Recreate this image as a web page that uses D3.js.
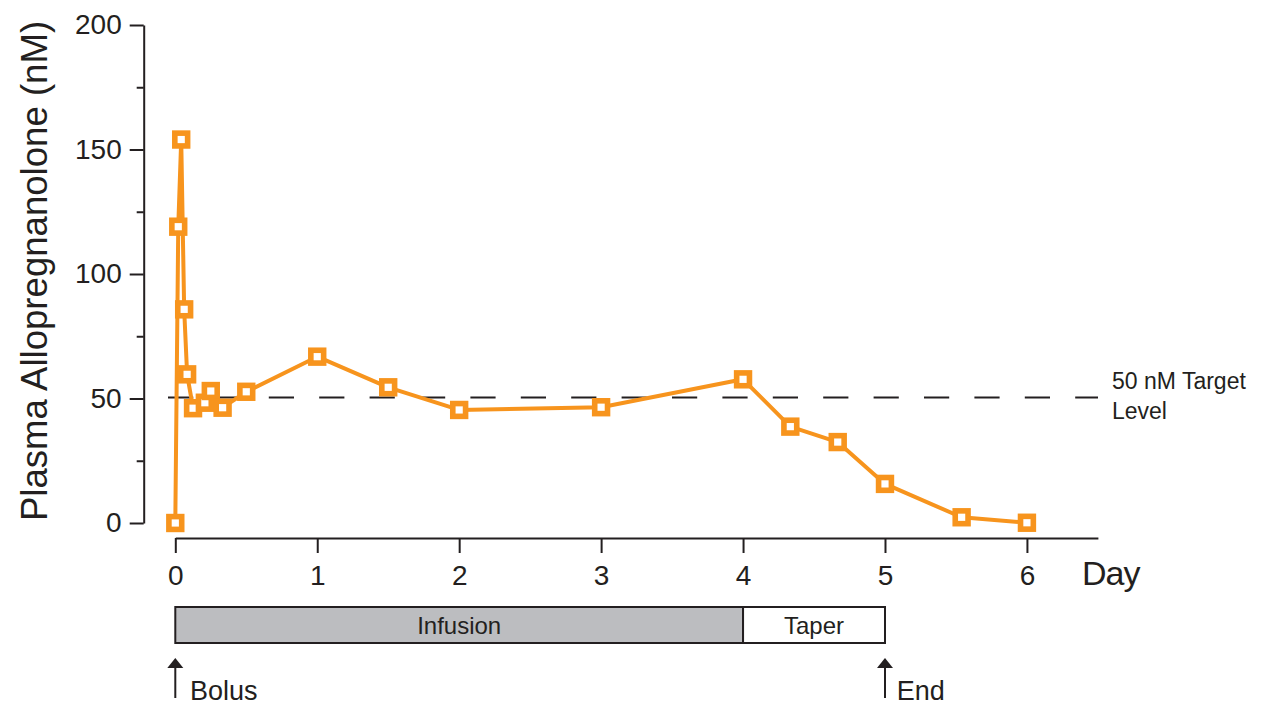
<!DOCTYPE html>
<html>
<head>
<meta charset="utf-8">
<script src="https://cdn.jsdelivr.net/npm/d3@7"></script>
<style>
  html, body { margin: 0; padding: 0; background: #fff; }
  svg { display: block; font-family: "Liberation Sans", Arial, sans-serif; }
</style>
</head>
<body>
<svg id="chart" width="1262" height="706"></svg>
<script>
// Sampling times (days after bolus) and plasma allopregnanolone (nM)
const days = [0, 0.0208, 0.0417, 0.0625, 0.0833, 0.125, 0.2083, 0.25, 0.3333, 0.5,
              1, 1.5, 2, 3, 4, 4.333, 4.667, 5, 5.54, 6];
const allo = [0, 119, 154, 85.8, 59.7, 46.1, 48.3, 53.0, 46.3, 52.7,
              66.8, 54.5, 45.4, 46.5, 57.7, 38.7, 32.5, 15.7, 2.3, 0.1];

const xTicks = [0, 1, 2, 3, 4, 5, 6];
const yTicks = [0, 50, 100, 150, 200];
const yMinorTicks = [25, 75, 125, 175];
const targetLevel = 50;
const targetLabel = ["50 nM Target", "Level"];

// Dosing phases shown under the time axis
const phases = [
  { name: "Infusion", start: 0, end: 4, fill: "#bcbdc0" },
  { name: "Taper", start: 4, end: 5, fill: "#ffffff" }
];
const events = [
  { name: "Bolus", day: 0 },
  { name: "End", day: 5 }
];

const orange = "#f7941d";
const ink = "#231f20";

const svg = d3.select("#chart");

const x = d3.scaleLinear().domain([0, 6.5]).range([175.3, 1097.9]);
const y = d3.scaleLinear().domain([0, 200]).range([523, 25]);

// Y axis: major ticks with labels, minor ticks without
const yAxisG = svg.append("g").attr("transform", "translate(143.7,0)");
yAxisG.call(d3.axisLeft(y).tickValues(yTicks).tickSize(14).tickSizeOuter(0).tickPadding(8));
svg.append("g").attr("transform", "translate(143.7,0)")
  .call(d3.axisLeft(y).tickValues(yMinorTicks).tickSize(7).tickSizeOuter(0).tickFormat(""))
  .select(".domain").remove();

// X axis
const xAxisG = svg.append("g").attr("transform", "translate(0,538)");
xAxisG.call(d3.axisBottom(x).tickValues(xTicks).tickFormat(d3.format("d"))
  .tickSize(15).tickSizeOuter(0).tickPadding(12));

svg.selectAll(".domain, .tick line").attr("stroke", ink).attr("stroke-width", 2);
svg.selectAll(".tick text").attr("font-size", 28).attr("fill", ink)
  .attr("font-family", "Liberation Sans, Arial, sans-serif");

// Axis titles
svg.append("text")
  .attr("transform", `translate(47,${(25 + 523) / 2 - 3}) rotate(-90)`)
  .attr("text-anchor", "middle")
  .attr("font-size", 36.6)
  .attr("fill", ink)
  .text("Plasma Allopregnanolone (nM)");

svg.append("text")
  .attr("x", 1082).attr("y", 585)
  .attr("font-size", 34)
  .attr("letter-spacing", -1)
  .attr("fill", ink)
  .text("Day");

// Target level reference line
svg.append("line")
  .attr("x1", 168).attr("x2", 1098)
  .attr("y1", y(targetLevel) - 1).attr("y2", y(targetLevel) - 1)
  .attr("stroke", ink).attr("stroke-width", 2)
  .attr("stroke-dasharray", "25.2 25.2");

svg.append("text")
  .attr("x", 1112).attr("y", 389)
  .attr("font-size", 23)
  .attr("fill", ink)
  .selectAll("tspan").data(targetLabel).join("tspan")
  .attr("x", 1112).attr("dy", (d, i) => i === 0 ? 0 : 30)
  .text(d => d);

// Concentration time course
const pts = days.map((d, i) => [d, allo[i]]);
svg.append("path")
  .datum(pts)
  .attr("fill", "none")
  .attr("stroke", orange)
  .attr("stroke-width", 4)
  .attr("stroke-linejoin", "round")
  .attr("d", d3.line().x(d => x(d[0])).y(d => y(d[1])));

const ms = 12.8;
svg.append("g").selectAll("rect").data(pts).join("rect")
  .attr("x", d => x(d[0]) - ms / 2)
  .attr("y", d => y(d[1]) - ms / 2)
  .attr("width", ms).attr("height", ms)
  .attr("fill", "#fff")
  .attr("stroke", orange)
  .attr("stroke-width", 5.6);

// Dosing schedule bar
const barG = svg.append("g");
barG.selectAll("rect").data(phases).join("rect")
  .attr("x", d => x(d.start))
  .attr("y", 607)
  .attr("width", d => x(d.end) - x(d.start))
  .attr("height", 36)
  .attr("fill", d => d.fill)
  .attr("stroke", ink)
  .attr("stroke-width", 2);
barG.selectAll("text").data(phases).join("text")
  .attr("x", d => (x(d.start) + x(d.end)) / 2)
  .attr("y", 634)
  .attr("text-anchor", "middle")
  .attr("font-size", 24)
  .attr("fill", ink)
  .text(d => d.name);

// Event arrows
const evG = svg.append("g").selectAll("g").data(events).join("g")
  .attr("transform", d => `translate(${x(d.day)},0)`);
evG.append("line")
  .attr("x1", 0).attr("x2", 0)
  .attr("y1", 666).attr("y2", 698)
  .attr("stroke", ink).attr("stroke-width", 2);
evG.append("path")
  .attr("d", "M0,658 L-8,668 L8,668 Z")
  .attr("fill", ink);
evG.append("text")
  .attr("x", d => d.name === "Bolus" ? 14.7 : 11.7)
  .attr("y", 700)
  .attr("font-size", 27)
  .attr("fill", ink)
  .text(d => d.name);
</script>
</body>
</html>
